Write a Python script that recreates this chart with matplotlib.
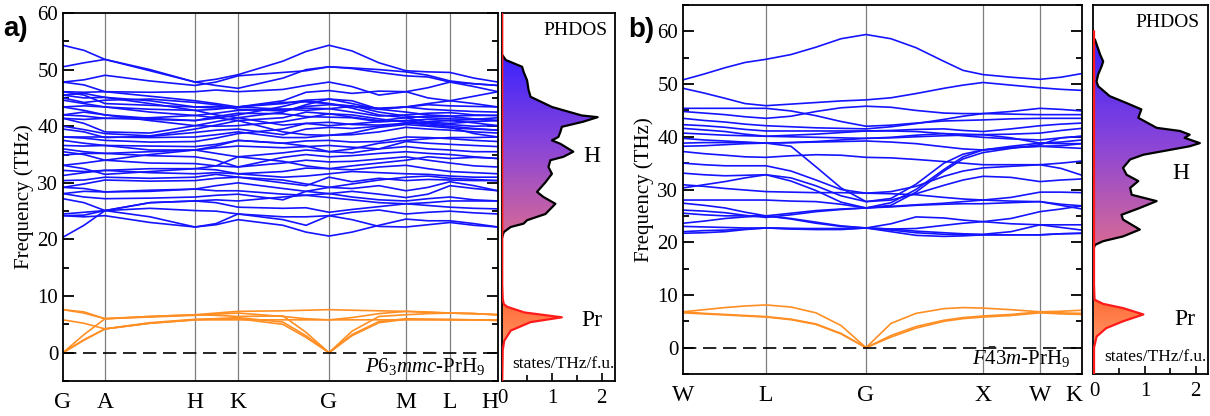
import numpy as np
import matplotlib
matplotlib.use("Agg")
import matplotlib.pyplot as plt
import matplotlib.transforms as mtransforms
from matplotlib.colors import LinearSegmentedColormap

plt.rcParams["font.family"] = ["Liberation Serif", "DejaVu Serif"]
plt.rcParams["mathtext.fontset"] = "custom"
plt.rcParams["mathtext.rm"] = "Liberation Serif"
plt.rcParams["mathtext.it"] = "Liberation Serif:italic"

BLUE = "#1414ff"
ORANGE = "#ff8f24"

# ---------------- panel a: P6_3mmc-PrH9 ----------------
ticks_a = [0, 42, 132, 175, 266, 343, 387, 435]
labels_a = ["G", "A", "H", "K", "G", "M", "L", "H"]
k_a = [0, 21, 42, 87, 132, 153, 175, 220, 243, 266, 289, 316, 343, 365, 387, 411, 435]

h_bands_a = [
    [54.3, 53.4, 51.8, 49.8, 47.8, 48.3, 49.1, 51.5, 53.2, 54.3, 53.3, 51.2, 49.8, 49.6, 49.5, 48.5, 47.8],
    [50.5, 51.2, 51.8, 50.0, 47.8, 47.2, 46.7, 48.5, 50.0, 50.5, 50.3, 50.0, 49.6, 49.0, 48.0, 47.5, 47.2],
    [47.8, 48.2, 49.0, 48.0, 47.2, 47.8, 48.9, 49.5, 49.8, 50.5, 50.2, 49.5, 48.9, 48.7, 47.8, 47.0, 46.1],
    [47.8, 47.3, 46.1, 46.0, 46.1, 46.4, 46.1, 46.5, 47.2, 47.8, 47.0, 45.5, 46.1, 45.0, 44.5, 45.3, 46.1],
    [46.1, 46.0, 46.1, 45.3, 44.5, 44.0, 43.4, 44.5, 46.0, 46.3, 45.8, 46.2, 46.1, 46.8, 47.8, 47.5, 47.2],
    [45.5, 45.0, 45.1, 44.5, 43.4, 43.2, 43.4, 44.0, 44.6, 44.8, 44.0, 43.0, 43.4, 44.0, 44.5, 44.0, 43.4],
    [44.6, 44.0, 43.4, 43.0, 42.8, 43.0, 43.4, 44.2, 44.3, 44.0, 43.5, 43.2, 43.4, 43.0, 42.8, 42.6, 42.5],
    [43.4, 43.6, 43.4, 42.5, 41.9, 42.3, 42.8, 43.0, 43.2, 43.1, 42.5, 41.8, 42.0, 42.3, 42.4, 42.0, 41.9],
    [42.0, 41.8, 41.4, 41.5, 41.9, 41.5, 41.0, 41.5, 42.5, 42.2, 41.6, 41.0, 41.5, 41.8, 41.7, 41.3, 41.0],
    [41.4, 41.2, 41.4, 41.2, 41.0, 41.7, 42.3, 42.2, 41.7, 41.6, 41.5, 40.8, 41.0, 41.2, 41.0, 40.6, 40.1],
    [41.4, 40.5, 39.0, 38.8, 40.1, 40.8, 41.5, 40.2, 40.5, 40.7, 40.3, 40.2, 40.5, 40.5, 40.3, 40.0, 40.1],
    [40.0, 39.4, 38.7, 38.3, 39.5, 40.2, 41.0, 39.0, 38.5, 38.4, 38.8, 39.8, 40.3, 40.0, 39.7, 39.5, 39.3],
    [38.1, 38.1, 38.1, 38.0, 38.1, 38.5, 39.0, 38.0, 38.0, 38.4, 38.5, 39.0, 39.8, 39.5, 39.3, 39.0, 38.8],
    [38.1, 37.9, 37.5, 37.2, 37.3, 37.9, 38.7, 39.5, 40.5, 40.1, 40.4, 40.8, 41.0, 40.5, 39.8, 38.7, 38.1],
    [37.5, 37.0, 36.6, 36.5, 36.4, 36.8, 37.5, 37.0, 37.4, 37.5, 37.2, 37.3, 38.1, 38.0, 37.8, 37.5, 37.3],
    [36.6, 36.5, 36.6, 35.8, 35.8, 36.2, 36.5, 36.2, 36.4, 36.6, 36.3, 36.0, 37.3, 37.0, 36.8, 36.6, 36.4],
    [36.0, 35.5, 35.2, 35.5, 35.8, 35.2, 34.6, 35.3, 35.8, 35.5, 35.3, 36.0, 36.4, 36.0, 35.8, 35.5, 35.5],
    [34.9, 35.2, 35.2, 34.8, 34.6, 34.0, 32.8, 34.5, 35.0, 34.6, 34.8, 35.2, 35.5, 35.2, 35.0, 34.6, 34.3],
    [33.1, 33.5, 34.0, 33.5, 33.4, 33.0, 32.8, 33.5, 34.0, 33.7, 33.8, 34.2, 34.6, 34.0, 33.5, 33.0, 32.8],
    [32.2, 32.0, 32.2, 32.5, 32.5, 32.3, 31.6, 32.0, 32.6, 32.5, 32.3, 32.8, 33.1, 32.5, 32.0, 31.8, 31.6],
    [31.3, 31.8, 32.2, 31.8, 31.6, 31.8, 31.6, 31.0, 31.2, 31.6, 32.0, 31.8, 31.6, 31.5, 31.2, 31.0, 31.0],
    [30.4, 30.5, 31.0, 30.8, 31.0, 31.5, 31.0, 30.0, 29.5, 31.0, 30.2, 30.8, 30.4, 30.6, 30.5, 30.4, 30.4],
    [29.2, 29.0, 28.4, 28.7, 28.9, 29.5, 30.0, 29.0, 28.5, 29.2, 29.0, 29.5, 28.6, 29.2, 30.2, 29.5, 28.6],
    [28.1, 28.5, 28.4, 28.5, 28.9, 28.6, 28.6, 28.0, 27.8, 28.1, 28.5, 28.0, 27.4, 28.0, 29.5, 29.0, 28.6],
    [27.2, 26.5, 25.1, 26.5, 26.8, 27.0, 26.8, 27.5, 27.8, 27.4, 27.0, 26.5, 26.3, 26.5, 26.8, 26.8, 26.8],
    [24.5, 24.8, 25.1, 26.5, 26.8, 26.5, 25.7, 25.5, 25.6, 24.8, 25.3, 25.8, 26.3, 26.0, 25.7, 25.5, 25.4],
    [24.2, 24.3, 25.1, 25.5, 25.1, 25.0, 24.5, 24.0, 24.0, 24.2, 24.8, 25.2, 24.5, 24.8, 25.0, 24.7, 24.5],
    [24.2, 24.0, 24.2, 23.0, 22.2, 22.6, 23.5, 22.5, 21.3, 20.6, 21.3, 22.5, 23.6, 23.3, 23.3, 22.8, 22.2],
    [20.4, 22.5, 25.1, 24.0, 22.2, 22.8, 24.5, 23.5, 22.5, 24.2, 23.5, 22.3, 22.2, 22.6, 23.0, 22.5, 22.2],
    [45.5, 45.8, 45.1, 44.0, 42.8, 42.0, 41.5, 42.5, 43.8, 44.8, 44.5, 43.0, 42.5, 42.0, 41.8, 41.9, 41.9],
    [43.4, 42.8, 42.0, 41.4, 41.0, 41.4, 42.0, 43.5, 44.5, 44.0, 43.2, 42.0, 41.5, 40.7, 40.5, 40.8, 41.0],
    [42.0, 42.5, 42.0, 41.0, 40.1, 40.0, 40.1, 40.8, 41.5, 42.2, 42.0, 41.3, 40.7, 40.2, 40.0, 39.6, 39.3],
    [35.5, 35.0, 34.0, 35.0, 35.8, 36.5, 37.5, 37.0, 36.5, 35.5, 36.0, 37.0, 37.5, 37.8, 38.0, 38.0, 38.1],
    [33.1, 32.5, 31.5, 32.0, 32.5, 33.0, 34.6, 33.8, 33.0, 32.5, 33.0, 33.5, 34.0, 34.6, 34.3, 34.5, 34.3],
    [29.2, 29.8, 30.5, 30.3, 30.4, 30.8, 31.0, 30.5, 29.8, 29.2, 29.8, 30.5, 31.0, 31.2, 30.8, 30.6, 30.4],
    [28.1, 27.5, 27.2, 27.3, 27.5, 27.8, 28.0, 27.0, 28.5, 28.1, 27.5, 27.0, 26.8, 27.2, 27.5, 27.0, 26.8],
    [46.1, 45.5, 44.0, 43.7, 43.4, 43.5, 43.4, 43.0, 42.8, 43.1, 43.5, 43.0, 43.4, 43.8, 43.6, 43.5, 43.4],
    [39.5, 39.0, 38.0, 38.2, 38.9, 39.3, 39.5, 38.5, 39.5, 39.8, 39.6, 40.0, 40.5, 40.8, 41.0, 41.2, 41.5],
    [45.0, 44.2, 44.6, 44.8, 44.2, 43.8, 43.0, 42.7, 43.5, 43.8, 43.6, 42.5, 41.8, 41.5, 41.3, 41.2, 41.0],
]
pr_bands_a = [
    [7.6, 7.2, 6.0, 6.4, 6.7, 7.0, 7.3, 7.4, 7.5, 7.6, 7.5, 7.4, 7.3, 7.1, 7.0, 6.9, 6.7],
    [5.8, 5.2, 4.2, 5.2, 5.8, 5.8, 5.8, 5.8, 5.8, 5.8, 5.8, 5.8, 5.8, 5.8, 5.8, 5.8, 5.7],
    [0.0, 3.2, 6.0, 6.4, 6.7, 6.6, 6.4, 6.5, 3.6, 0.0, 3.8, 6.4, 6.7, 6.9, 7.0, 6.9, 6.7],
    [0.0, 2.2, 4.2, 5.2, 5.8, 6.0, 6.2, 5.4, 3.0, 0.0, 3.2, 5.5, 6.0, 5.9, 5.8, 5.8, 5.7],
    [0.0, 2.3, 4.2, 5.3, 5.9, 6.0, 6.0, 5.0, 2.7, 0.0, 3.0, 5.3, 5.9, 5.9, 5.9, 5.8, 5.8],
    [7.6, 7.0, 6.0, 6.3, 6.6, 6.8, 7.0, 6.4, 6.0, 5.8, 6.2, 6.9, 7.3, 7.2, 7.0, 6.9, 6.7],
]
dos_a_h_freq = [52.6, 51.7, 50.5, 49.6, 48.1, 46.4, 45.2, 43.4, 41.9, 41.6, 40.8, 39.9, 39.0, 38.1, 37.5,
                36.9, 35.5, 34.6, 34.0, 32.8, 31.6, 30.1, 28.4, 27.5, 26.3, 24.5, 23.4, 22.8, 22.2, 21.3, 20.4]
dos_a_h_val = [0.0, 0.07, 0.4, 0.43, 0.5, 0.53, 0.57, 1.0, 1.6, 1.92, 1.63, 1.2, 1.17, 1.13, 1.0,
               1.17, 1.43, 1.23, 0.97, 0.93, 1.0, 0.87, 0.70, 0.83, 1.07, 0.87, 0.5, 0.43, 0.17, 0.03, 0.0]
dos_a_pr_freq = [60, 12, 9.5, 8.6, 8.1, 7.1, 6.25, 5.4, 3.9, 2.1, 0.5, -5]
dos_a_pr_val = [0, 0, 0.01, 0.03, 0.1, 0.45, 1.2, 0.57, 0.17, 0.04, 0.01, 0]

# ---------------- panel b: F-43m-PrH9 ----------------
ticks_b = [0, 83, 183, 300, 357, 399]
labels_b = ["W", "L", "G", "X", "W", "K"]
k_b = [0, 21, 42, 62, 83, 108, 133, 158, 183, 208, 233, 261, 280, 300, 328, 357, 378, 399]

h_bands_b = [
    [50.8, 51.9, 53.1, 54.1, 54.7, 55.6, 57.0, 58.6, 59.4, 58.6, 56.9, 54.3, 52.6, 51.8, 51.3, 50.9, 51.3, 52.0],
    [49.2, 48.3, 47.3, 46.3, 45.9, 46.2, 46.5, 46.8, 47.0, 47.4, 48.2, 49.2, 49.8, 50.3, 49.8, 49.3, 49.0, 48.8],
    [45.4, 45.4, 45.4, 45.4, 45.4, 44.9, 44.0, 42.9, 42.0, 42.2, 42.6, 43.0, 43.1, 43.2, 43.4, 43.5, 43.5, 43.5],
    [44.8, 44.5, 44.2, 43.8, 43.5, 43.9, 44.8, 45.5, 45.8, 45.6, 45.0, 44.5, 44.4, 44.4, 44.8, 45.4, 45.2, 44.9],
    [43.5, 43.1, 42.8, 42.4, 42.1, 41.9, 41.7, 41.6, 41.5, 41.9, 42.5, 43.3, 43.9, 44.4, 44.3, 44.2, 44.2, 44.2],
    [42.3, 42.1, 41.8, 41.4, 41.1, 41.1, 41.1, 41.1, 41.1, 41.2, 41.4, 41.5, 41.2, 41.0, 41.5, 42.1, 42.4, 42.6],
    [41.6, 41.3, 41.0, 40.5, 40.1, 40.0, 39.9, 39.8, 39.7, 39.9, 40.3, 40.6, 40.5, 40.4, 40.5, 40.7, 41.2, 41.6],
    [40.7, 40.5, 40.3, 40.2, 40.1, 40.3, 40.5, 40.8, 41.1, 41.1, 41.0, 40.6, 40.2, 39.9, 39.6, 39.4, 39.8, 40.1],
    [39.7, 39.4, 39.2, 39.0, 38.8, 38.9, 39.1, 39.4, 39.7, 39.8, 40.0, 40.2, 40.3, 40.4, 39.8, 38.8, 39.0, 39.4],
    [38.8, 38.9, 38.9, 38.9, 38.8, 38.2, 34.3, 30.3, 27.7, 28.3, 31.0, 35.0, 36.7, 37.5, 38.2, 38.8, 38.7, 38.7],
    [37.2, 36.8, 36.5, 36.2, 36.1, 36.4, 36.6, 36.5, 36.1, 36.0, 35.7, 35.3, 35.0, 34.7, 34.7, 34.7, 35.0, 35.4],
    [38.2, 38.3, 38.5, 38.7, 38.8, 38.9, 39.0, 39.1, 39.2, 39.0, 38.7, 38.1, 37.7, 37.5, 37.9, 38.2, 38.0, 37.8],
    [35.0, 34.7, 34.5, 34.5, 34.5, 33.5, 31.8, 30.0, 29.3, 29.6, 30.6, 32.5, 33.5, 34.1, 34.4, 34.7, 34.0, 32.7],
    [33.1, 32.8, 32.6, 32.7, 32.8, 31.6, 29.8, 27.6, 26.5, 27.5, 30.0, 33.8, 36.2, 37.5, 38.0, 38.2, 38.3, 38.7],
    [30.3, 30.9, 31.5, 32.2, 32.8, 32.2, 30.7, 28.8, 27.7, 28.0, 29.2, 30.8, 31.8, 32.5, 32.3, 31.5, 31.8, 32.0],
    [30.9, 30.6, 30.2, 29.9, 29.6, 29.5, 29.4, 29.4, 29.3, 29.2, 29.0, 28.5, 28.2, 28.0, 28.5, 29.5, 29.5, 29.4],
    [28.0, 28.0, 28.0, 28.0, 28.0, 27.8, 27.7, 27.2, 26.5, 27.0, 29.5, 33.5, 35.8, 37.0, 37.8, 38.5, 39.8, 40.1],
    [27.4, 27.0, 26.5, 25.7, 25.0, 25.5, 26.0, 26.3, 26.5, 26.7, 27.0, 27.2, 27.3, 27.3, 27.5, 27.7, 27.2, 26.9],
    [26.1, 25.9, 25.6, 25.1, 24.7, 25.2, 25.8, 26.2, 26.5, 26.8, 27.1, 27.4, 27.7, 28.0, 27.8, 27.7, 27.0, 26.3],
    [25.5, 25.2, 25.0, 25.0, 25.0, 24.4, 23.6, 23.0, 22.7, 22.5, 22.6, 23.2, 23.6, 23.9, 24.5, 25.8, 26.3, 26.9],
    [23.6, 24.0, 24.5, 24.8, 25.0, 24.5, 23.8, 23.1, 22.7, 23.5, 24.8, 24.6, 24.2, 23.9, 23.5, 23.3, 23.3, 23.3],
    [23.0, 22.9, 22.8, 22.7, 22.7, 22.6, 22.6, 22.6, 22.7, 22.0, 21.3, 21.1, 21.2, 21.4, 21.4, 21.4, 21.6, 21.7],
    [22.0, 22.2, 22.3, 22.5, 22.7, 22.5, 22.4, 22.4, 22.7, 22.5, 22.1, 21.8, 21.6, 21.5, 22.0, 23.3, 22.8, 22.3],
    [21.7, 21.8, 22.0, 22.4, 22.7, 22.6, 22.5, 22.5, 22.7, 22.3, 21.8, 21.5, 21.4, 21.4, 21.4, 21.4, 21.6, 21.7],
]
pr_bands_b = [
    [6.8, 7.2, 7.6, 7.9, 8.1, 7.7, 6.6, 4.2, 0.0, 4.6, 6.5, 7.4, 7.6, 7.5, 7.2, 6.8, 6.9, 7.1],
    [6.8, 6.5, 6.3, 6.1, 5.9, 5.4, 4.5, 2.7, 0.0, 2.3, 4.0, 5.2, 5.7, 6.0, 6.3, 6.8, 6.6, 6.5],
    [6.6, 6.4, 6.2, 6.0, 5.8, 5.3, 4.4, 2.6, 0.0, 2.0, 3.7, 5.0, 5.5, 5.8, 6.1, 6.6, 6.4, 6.3],
]
dos_b_h_freq = [58.4, 55.6, 54.3, 53.4, 51.8, 50.5, 49.6, 47.7, 46.4, 45.2, 43.6, 41.7, 41.1, 40.4, 39.8,
                38.8, 38.2, 36.6, 35.7, 34.1, 32.8, 31.6, 30.3, 29.0, 27.8, 26.5, 25.2, 24.3, 22.4, 21.1,
                20.2, 19.5, 19.0]
dos_b_h_val = [0.02, 0.12, 0.18, 0.15, 0.08, 0.05, 0.08, 0.31, 0.64, 0.93, 0.87, 1.23, 1.69, 1.88, 1.78,
               2.08, 1.88, 0.97, 0.71, 0.57, 0.64, 0.87, 0.71, 0.74, 1.23, 0.9, 0.54, 0.57, 0.9, 0.57,
               0.18, 0.02, 0.0]
dos_b_pr_freq = [60, 12, 9.1, 8.3, 7.5, 6.3, 5.0, 3.7, 2.1, 0.0, -5]
dos_b_pr_val = [0, 0, 0.01, 0.18, 0.57, 0.97, 0.57, 0.24, 0.05, 0.0, 0]


def fig_rect(l, t, r, b):
    W, H = 1210.0, 416.0
    return [l / W, 1 - b / H, (r - l) / W, (b - t) / H]


def band_axes(ax, k, h_bands, pr_bands, ticks, labels, ylim, name, last_right=False):
    for t in ticks[1:-1]:
        ax.axvline(t, color="#7f7f7f", lw=0.9, zorder=1)
    for bnd in h_bands:
        ax.plot(k, bnd, color=BLUE, lw=1.2, zorder=2)
    for bnd in pr_bands:
        ax.plot(k, bnd, color=ORANGE, lw=1.2, zorder=2)
    ax.axhline(0, color="black", lw=1.2, ls=(0, (8, 4)), zorder=3)
    ax.set_xlim(ticks[0], ticks[-1])
    ax.set_ylim(*ylim)
    ax.set_xticks(ticks)
    tl = ax.set_xticklabels(labels, fontsize=17)
    if last_right:
        tl[-1].set_ha("right")
        tl[-1].set_transform(tl[-1].get_transform() + mtransforms.ScaledTranslation(-2 / 72, 0, ax.figure.dpi_scale_trans))
    ax.tick_params(axis="x", length=0, pad=8)
    ax.set_yticks(np.arange(0, ylim[1] + 0.1, 10))
    ax.set_yticks(np.arange(-5, ylim[1] + 0.1, 5), minor=True)
    ax.tick_params(axis="y", which="both", direction="in", left=True, right=True, labelsize=15, width=1.3)
    ax.tick_params(axis="y", which="major", length=8)
    ax.tick_params(axis="y", which="minor", length=4)
    ax.set_ylabel("Frequency (THz)", fontsize=15, labelpad=2)
    for s in ax.spines.values():
        s.set_linewidth(1.3)
    ax.text(0.97, 0.012, name, transform=ax.transAxes, ha="right", va="bottom", fontsize=15)


def dos_axes(ax, hf, hv, pf, pv, ylim, h_pos, pr_pos, xlim):
    cmap_h = LinearSegmentedColormap.from_list("h", ["#d86a94", "#8a45d8", "#3a22ff"])
    cmap_p = LinearSegmentedColormap.from_list("p", ["#ff9a6a", "#ff6a35"])
    hx = [0] + list(hv) + [0]
    hy = [hf[0]] + list(hf) + [hf[-1]]
    poly = ax.fill(hx, hy, color="none", lw=0)[0]
    grad = np.linspace(0, 1, 256).reshape(-1, 1)
    im = ax.imshow(grad, extent=[0, 2.3, min(hf), max(hf)], origin="lower", aspect="auto", cmap=cmap_h, zorder=1)
    im.set_clip_path(poly)
    pmask = [i for i, f in enumerate(pf) if 0 <= f <= 10]
    px = [0] + [pv[i] for i in pmask] + [0]
    py = [pf[pmask[0]]] + [pf[i] for i in pmask] + [pf[pmask[-1]]]
    poly2 = ax.fill(px, py, color="none", lw=0)[0]
    im2 = ax.imshow(grad, extent=[0, 2.3, 0, 9.5], origin="lower", aspect="auto", cmap=cmap_p, zorder=1)
    im2.set_clip_path(poly2)
    ax.plot(hv, hf, color="black", lw=1.6, zorder=3)
    ax.plot(pv, pf, color="#ff1a1a", lw=1.6, zorder=3)
    ax.set_xlim(*xlim)
    ax.set_ylim(*ylim)
    ax.set_yticks([])
    ax.set_xticks([0, 1, 2])
    ax.set_xticks([0.5, 1.5], minor=True)
    ax.tick_params(axis="x", which="both", direction="in", labelsize=15, width=1.2, pad=6)
    ax.tick_params(axis="x", which="major", length=6)
    ax.tick_params(axis="x", which="minor", length=4)
    for s in ax.spines.values():
        s.set_linewidth(1.3)
    ax.text(0.93, 0.975, "PHDOS", transform=ax.transAxes, ha="right", va="top", fontsize=14)
    ax.text(h_pos[0], h_pos[1], "H", ha="center", va="center", fontsize=17)
    ax.text(pr_pos[0], pr_pos[1], "Pr", ha="center", va="center", fontsize=17)
    ax.text(0.54, 0.025, "states/THz/f.u.", transform=ax.transAxes, ha="center", va="bottom", fontsize=12.5)


fig = plt.figure(figsize=(12.1, 4.16), dpi=100)

ax1 = fig.add_axes(fig_rect(63, 13, 498, 381))
band_axes(ax1, k_a, h_bands_a, pr_bands_a, ticks_a, labels_a, (-5, 60), r"$P6_3mmc$-PrH$_9$", last_right=True)
ax2 = fig.add_axes(fig_rect(502, 13, 615, 381))
dos_axes(ax2, dos_a_h_freq, dos_a_h_val, dos_a_pr_freq, dos_a_pr_val, (-5, 60), (1.8, 34.7), (1.8, 5.7), (-0.005, 2.27))

ax3 = fig.add_axes(fig_rect(683, 5, 1082, 374))
band_axes(ax3, k_b, h_bands_b, pr_bands_b, ticks_b, labels_b, (-5, 65), r"$F\bar{4}3m$-PrH$_9$", last_right=True)
ax4 = fig.add_axes(fig_rect(1093, 5, 1208, 374))
dos_axes(ax4, dos_b_h_freq, dos_b_h_val, dos_b_pr_freq, dos_b_pr_val, (-5, 65), (1.7, 33.0), (1.78, 5.3), (-0.02, 2.24))

fig.text(0.003, 0.93, "a)", fontsize=20, fontweight="bold", family="Liberation Sans", va="center")
fig.text(0.519, 0.928, "b)", fontsize=20, fontweight="bold", family="Liberation Sans", va="center")

fig.savefig("out.png", dpi=100)
